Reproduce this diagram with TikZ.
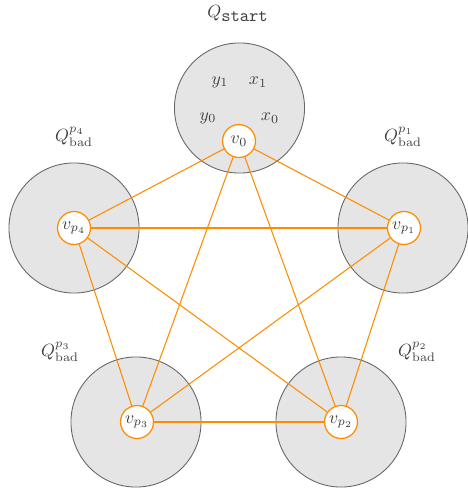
\documentclass[tikz,border=0pt]{standalone}
\definecolor{edgeorange}{RGB}{255,140,0}
\begin{document}
\begin{tikzpicture}[x=0.565pt,y=-0.565pt,
  region/.style={circle,draw=black!60,fill=black!10,line width=0.5pt,minimum size=73.5pt,inner sep=0pt},
  vtx/.style={circle,draw=edgeorange,fill=white,line width=0.7pt,minimum size=18.6pt,inner sep=0.5pt,text=black!75},
  lbl/.style={text=black!75,inner sep=0pt},
  edge/.style={draw=edgeorange,line width=0.6pt}]
\useasboundingbox (0,0) rectangle (468,491);
% regions
\node[region] (Rs) at (239.5,108) {};
\node[region] (R1) at (403,228) {};
\node[region] (R2) at (341,422) {};
\node[region] (R3) at (136,422) {};
\node[region] (R4) at (74,228) {};
% labels
\node[lbl,anchor=base] (Ls) at (238,18) {$Q_{\hbox{\ttfamily start}}$};
\node[lbl] (L1) at (403,137) {$Q^{p_1}_{\mathrm{bad}}$};
\node[lbl] (L4) at (74,137) {$Q^{p_4}_{\mathrm{bad}}$};
\node[lbl] (L3) at (60,352) {$Q^{p_3}_{\mathrm{bad}}$};
\node[lbl] (L2) at (417,352) {$Q^{p_2}_{\mathrm{bad}}$};
% inner variables
\node[lbl] (y1) at (220,82) {$y_1$};
\node[lbl] (x1) at (258,82) {$x_1$};
\node[lbl] (y0) at (208,118) {$y_0$};
\node[lbl] (x0) at (270,118) {$x_0$};
% vertices
\node[vtx] (v0) at (239,141) {$v_0$};
\node[vtx] (v1) at (404,228) {$v_{p_1}$};
\node[vtx] (v2) at (341,422) {$v_{p_2}$};
\node[vtx] (v3) at (137,422) {$v_{p_3}$};
\node[vtx] (v4) at (74,228) {$v_{p_4}$};
% edges
\foreach \a/\b in {v0/v1,v0/v2,v0/v3,v0/v4,v1/v2,v1/v3,v1/v4,v2/v3,v2/v4,v3/v4}
  \draw[edge] (\a) -- (\b);
\end{tikzpicture}
\end{document}
